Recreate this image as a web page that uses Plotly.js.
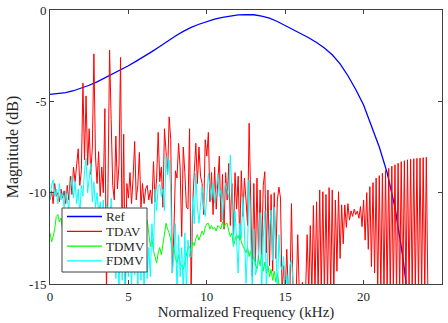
<!DOCTYPE html>
<html><head><meta charset="utf-8">
<script src="https://cdn.plot.ly/plotly-3.0.1.min.js"></script>
<style>html,body{margin:0;padding:0;background:#fff;} #chart{width:448px;height:323px;}</style>
</head><body><div id="chart"></div>
<script>
// Reference response (kHz, dB)
const refFreq = [0,0.5,1,1.5,2,2.5,3,3.5,4,4.5,5,5.5,6,6.5,7,7.5,8,8.5,9,9.5,10,10.5,11,11.5,12,12.5,13,13.5,14,14.5,15,15.5,16,16.5,17,17.5,18,18.5,19,19.5,20,20.5,21,21.5,22,22.5,22.7,23];
const refMag  = [-4.62,-4.59,-4.52,-4.42,-4.29,-4.12,-3.93,-3.72,-3.5,-3.28,-3.05,-2.8,-2.55,-2.28,-2.0,-1.7,-1.42,-1.17,-0.95,-0.78,-0.63,-0.5,-0.4,-0.32,-0.27,-0.25,-0.26,-0.33,-0.45,-0.63,-0.85,-1.05,-1.28,-1.52,-1.78,-2.08,-2.45,-2.95,-3.6,-4.35,-5.2,-6.3,-7.5,-8.9,-10.8,-13.5,-14.95,-17.0];

// Sampled responses, 0.1 kHz spacing starting at 0 kHz
const freqStep = 0.1;
const tdav = [
-10.4,-9.9,-10.6,-9.5,-10.2,-10.0,-10.5,-9.8,-10.3,-9.9,
-10.6,-9.6,-10.4,-9.1,-10.1,-8.6,-9.4,-8.3,-7.6,-9.6,
-8.8,-4.0,-8.2,-4.7,-8.5,-6.5,-9.0,-7.5,-2.4,-8.0,
-9.5,-7.75,-10.2,-8.6,-10.0,-5.4,-15.5,-9.5,-2.2,-6.0,
-9.6,-10.4,-6.9,-9.8,-8.5,-2.6,-13.0,-6.8,-15.5,-9.5,
-10.3,-8.9,-10.6,-9.2,-7.2,-10.4,-9.6,-7.8,-10.8,-9.5,
-10.6,-9.8,-9.6,-10.4,-9.85,-10.6,-8.3,-10.5,-9.2,-6.7,
-9.4,-8.6,-10.8,-6.5,-7.8,-9.0,-5.85,-7.1,-14.4,-12.2,
-8.8,-9.2,-7.3,-8.6,-12.4,-7.5,-8.9,-10.8,-10.9,-6.5,
-15.5,-10.6,-8.9,-7.3,-9.5,-7.5,-9.1,-9.5,-11.2,-7.1,
-8.0,-6.7,-10.5,-8.9,-11.2,-8.6,-10.9,-9.1,-8.0,-11.6,
-9.0,-12.0,-8.9,-10.4,-8.4,-11.8,-9.5,-12.3,-8.9,-10.9,
-9.1,-12.6,-8.8,-11.3,-9.2,-10.4,-11.8,-6.2,-10.8,-14.6,
-9.5,-14.0,-9.2,-13.6,-9.85,-13.4,-9.6,-8.85,-13.3,-9.85,
-14.0,-10.1,-14.3,-10.0,-13.6,-10.4,-9.7,-10.3,-15.5,-14.0,
-15.5,-13.1,-15.5,-15.5,-10.6,-15.5,-15.5,-15.5,-12.3,-15.5,
-15.5,-14.9,-15.5,-15.5,-12.3,-15.5,-11.8,-15.5,-10.7,-15.5,
-10.5,-15.5,-9.85,-15.5,-9.95,-15.5,-10.1,-15.5,-9.72,-15.5,
-9.85,-15.5,-10.4,-14.3,-9.95,-13.6,-10.67,-12.8,-10.67,-11.9,
-10.6,-11.5,-11.0,-11.3,-10.9,-11.2,-11.0,-11.4,-10.76,-11.86,
-10.4,-12.6,-10.0,-13.1,-9.67,-14.05,-9.45,-14.4,-9.2,-15.5,
-9.07,-15.5,-8.93,-15.5,-8.78,-15.5,-8.67,-15.5,-8.55,-15.5,
-8.47,-15.5,-8.39,-15.5,-8.3,-15.5,-8.25,-15.5,-8.2,-15.5,
-8.17,-15.5,-8.14,-15.5,-8.12,-15.5,-8.1,-15.5,-8.08,-15.5,
-8.06,-15.5
];
const tdmv = [
-12.2,-12.7,-12.4,-12.0,-11.3,-11.2,-11.6,-11.4,-12.0,-12.3,
-12.6,-12.2,-12.9,-12.5,-13.1,-12.7,-13.3,-12.8,-13.0,-12.6,
-13.2,-12.9,-13.4,-13.0,-12.7,-13.3,-12.9,-13.5,-13.1,-12.8,
-13.4,-13.0,-13.6,-13.2,-12.9,-13.5,-13.1,-13.7,-13.3,-13.0,
-13.6,-13.2,-13.8,-13.4,-13.0,-13.6,-13.3,-13.9,-13.5,-13.1,
-13.7,-13.3,-13.8,-13.2,-12.8,-13.4,-12.9,-12.5,-13.0,-12.3,
-12.0,-12.4,-11.5,-12.4,-12.95,-12.5,-13.2,-13.5,-13.86,-13.3,
-13.0,-13.4,-12.76,-12.2,-11.68,-12.0,-12.2,-12.6,-13.2,-13.0,
-13.6,-13.86,-13.4,-13.9,-14.0,-14.2,-13.8,-13.5,-13.0,-12.95,
-13.2,-12.7,-12.9,-12.5,-12.3,-12.6,-12.4,-12.1,-12.3,-11.9,
-11.7,-11.68,-12.0,-11.8,-12.0,-11.9,-12.1,-11.8,-11.86,-12.0,
-11.6,-11.9,-11.7,-11.68,-12.1,-12.4,-12.2,-12.95,-12.6,-12.3,
-12.5,-12.2,-12.7,-12.9,-13.1,-13.3,-13.0,-13.5,-13.2,-13.8,
-13.5,-13.9,-14.2,-13.6,-14.0,-13.4,-14.3,-13.8,-14.4,-14.0,
-14.6,-14.2,-14.8,-14.3,-14.9,-14.4,-15.2,-15.6
];
const fdmv = [
-10.4,-9.6,-9.3,-10.2,-9.8,-10.6,-9.5,-10.4,-10.0,-10.8,
-9.9,-10.5,-10.9,-9.6,-9.1,-10.3,-9.4,-10.6,-9.8,-11.2,
-9.6,-10.2,-8.8,-8.1,-10.0,-9.2,-8.4,-10.5,-9.4,-10.8,
-10.0,-11.2,-10.5,-11.8,-10.4,-12.5,-10.6,-11.1,-12.8,-10.3,
-13.5,-11.0,-14.7,-12.0,-15.5,-11.5,-14.8,-12.5,-15.5,-13.0,
-14.6,-12.0,-15.5,-11.8,-14.5,-12.6,-15.5,-11.9,-14.8,-12.2,
-15.5,-11.7,-14.7,-13.0,-14.6,-11.7,-13.2,-9.8,-11.0,-9.6,
-9.55,-10.2,-9.8,-11.0,-8.0,-9.0,-8.2,-10.0,-14.4,-13.5,
-11.7,-15.5,-12.3,-14.6,-13.0,-15.5,-12.2,-15.5,-12.6,-13.5,
-13.5,-10.2,-11.7,-8.94,-10.76,-11.68,-10.5,-9.67,-10.76,-11.3,
-10.22,-8.94,-9.67,-10.4,-9.49,-10.58,-9.85,-8.94,-10.22,-9.85,
-11.5,-10.0,-9.49,-9.9,-10.3,-7.95,-9.85,-12.95,-11.0,-12.6,
-14.4,-11.68,-12.5,-10.22,-12.04,-14.96,-13.0,-9.3,-12.6,-15.5,
-12.0,-14.5,-14.2,-13.3,-11.1,-15.5,-12.5,-11.0,-15.5,-13.0,
-12.0,-10.95,-13.7,-10.8,-12.8,-15.5,-12.3,-14.0,-14.2,-13.5,
-15.5,-14.5,-15.5,-14.0,-13.7,-15.5,-16.0
];

const xTicks = [0,5,10,15,20,25];
const yTicks = [0,-5,-10,-15];
const yTickText = ['0','-5','-10','-15'];
const seriesNames = ['Ref','TDAV','TDMV','FDMV'];
const seriesColors = ['#0000FF','#FF0000','#00FF00','#00FFFF'];

const grid = arr => arr.map((_, i) => Math.round(i * freqStep * 100) / 100);
const FONT = '"Liberation Serif", serif';

const traces = [
  {x: refFreq, y: refMag, name: seriesNames[0], mode: 'lines',
   line: {color: seriesColors[0], width: 1.3}},
  {x: grid(tdav), y: tdav, name: seriesNames[1], mode: 'lines',
   line: {color: seriesColors[1], width: 1}},
  {x: grid(tdmv), y: tdmv, name: seriesNames[2], mode: 'lines',
   line: {color: seriesColors[2], width: 1}},
  {x: grid(fdmv), y: fdmv, name: seriesNames[3], mode: 'lines',
   line: {color: seriesColors[3], width: 1}}
];

// Plot-area geometry (pixels) used to place the legend box in paper coordinates
const M = {l: 50, r: 6, t: 10, b: 39};
const W = 448, H = 323;
const pw = W - M.l - M.r, ph = H - M.t - M.b;
const px = v => (v - M.l) / pw;
const py = v => (H - M.b - v) / ph;

const shapes = [{type: 'rect', xref: 'paper', yref: 'paper', layer: 'above',
  x0: px(62), x1: px(147), y0: py(272), y1: py(208),
  fillcolor: '#ffffff', line: {color: '#404040', width: 1}}];
const annotations = [];
seriesNames.forEach((name, i) => {
  const yc = 216.5 + i * 14.8;
  shapes.push({type: 'line', xref: 'paper', yref: 'paper', layer: 'above',
    x0: px(67), x1: px(102), y0: py(yc), y1: py(yc),
    line: {color: seriesColors[i], width: 1.3}});
  annotations.push({xref: 'paper', yref: 'paper', x: px(104), y: py(yc),
    xanchor: 'left', yanchor: 'middle', showarrow: false, text: name,
    font: {family: FONT, size: 13, color: '#262626'}});
});

const axisCommon = {
  showgrid: false, zeroline: false, showline: true, linecolor: '#404040', linewidth: 1,
  mirror: 'ticks', ticks: 'inside', ticklen: 4, tickcolor: '#404040', tickwidth: 1,
  tickfont: {family: FONT, size: 13, color: '#262626'}
};

const layout = {
  width: W, height: H, margin: M,
  paper_bgcolor: '#fff', plot_bgcolor: '#fff',
  font: {family: FONT, size: 13, color: '#262626'},
  showlegend: false,
  shapes: shapes, annotations: annotations,
  xaxis: Object.assign({}, axisCommon, {range: [0, 25], tickvals: xTicks, ticktext: xTicks.map(String),
    title: {text: 'Normalized Frequency (kHz)', font: {family: FONT, size: 15, color: '#262626'}, standoff: 3}}),
  yaxis: Object.assign({}, axisCommon, {range: [-15, 0], tickvals: yTicks, ticktext: yTickText,
    title: {text: 'Magnitude (dB)', font: {family: FONT, size: 16, color: '#262626'}, standoff: 6}})
};

Plotly.newPlot('chart', traces, layout, {displayModeBar: false, staticPlot: true});
</script>
</body></html>
